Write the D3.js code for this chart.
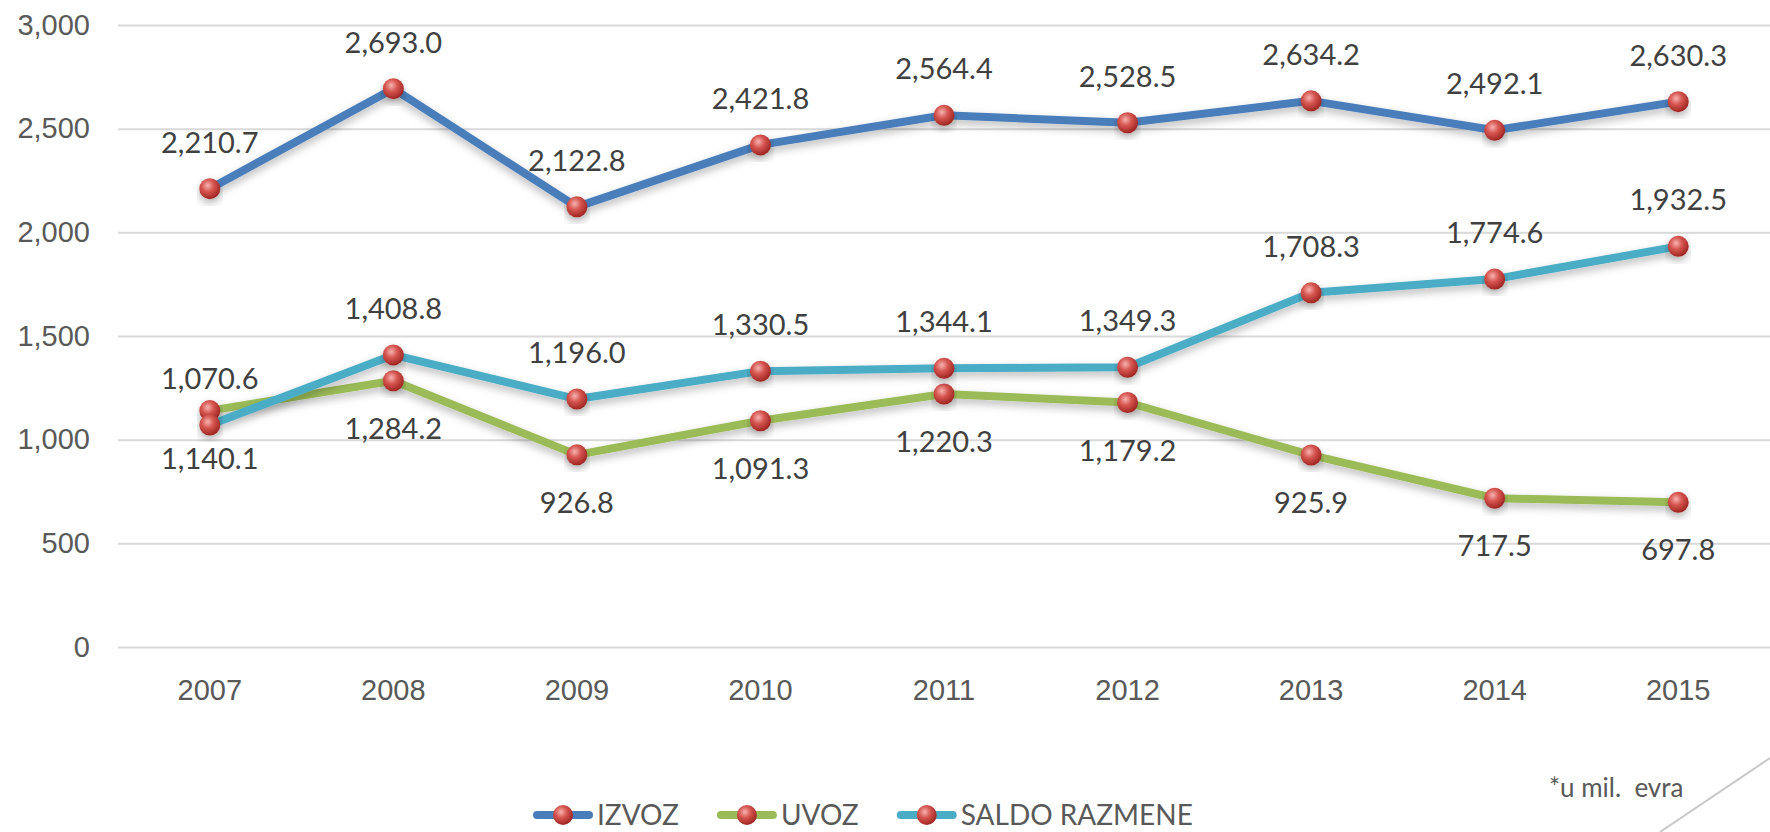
<!DOCTYPE html>
<html>
<head>
<meta charset="utf-8">
<script src="https://cdn.jsdelivr.net/npm/d3@7"></script>
<style>
  body { margin: 0; background: #fff; }
  svg { display: block; font-family: Lato, "Open Sans", sans-serif; }
</style>
</head>
<body>
<svg width="1770" height="832"></svg>
<script>
// podaci (u mil. evra)
const years = ['2007', '2008', '2009', '2010', '2011', '2012', '2013', '2014', '2015'];
const izvoz = [2210.7, 2693.0, 2122.8, 2421.8, 2564.4, 2528.5, 2634.2, 2492.1, 2630.3];
const uvoz = [1140.1, 1284.2, 926.8, 1091.3, 1220.3, 1179.2, 925.9, 717.5, 697.8];
const saldo = [1070.6, 1408.8, 1196.0, 1330.5, 1344.1, 1349.3, 1708.3, 1774.6, 1932.5];
const yTicks = [0, 500, 1000, 1500, 2000, 2500, 3000];

const series = [
    { name: 'IZVOZ', values: izvoz, color: '#4a7ebb', labelPos: 'above' },
    { name: 'UVOZ', values: uvoz, color: '#9bbb59', labelPos: 'below' },
    { name: 'SALDO RAZMENE', values: saldo, color: '#4bacc6', labelPos: 'above' }
];

const svg = d3.select('svg');
const textColor = '#595959';

const plotLeft = 118, plotRight = 1770, plotTop = 25, plotBottom = 647;

const x = d3.scaleBand().domain(years).range([plotLeft, plotRight]);
const y = d3.scaleLinear().domain([0, 3000]).range([plotBottom, plotTop]);
const cx = d => x(d) + x.bandwidth() / 2;

// gradijent za markere i senka
const defs = svg.append('defs');
const grad = defs.append('radialGradient')
    .attr('id', 'ball')
    .attr('cx', '40%').attr('cy', '35%').attr('r', '65%');
grad.append('stop').attr('offset', '0%').attr('stop-color', '#f6b3b0');
grad.append('stop').attr('offset', '45%').attr('stop-color', '#d65550');
grad.append('stop').attr('offset', '100%').attr('stop-color', '#9e2622');

const shadow = defs.append('filter')
    .attr('id', 'shadow')
    .attr('x', '-10%').attr('y', '-30%').attr('width', '120%').attr('height', '160%');
shadow.append('feDropShadow')
    .attr('dx', 0).attr('dy', 4)
    .attr('stdDeviation', 4)
    .attr('flood-color', '#000')
    .attr('flood-opacity', 0.28);

// y osa sa linijama mreze
const yAxis = svg.append('g')
    .attr('transform', `translate(${plotLeft},0)`)
    .call(d3.axisLeft(y)
        .tickValues(yTicks)
        .tickSizeInner(-(plotRight - plotLeft))
        .tickSizeOuter(0)
        .tickPadding(28)
        .tickFormat(d3.format(',')));
yAxis.select('.domain').remove();
yAxis.selectAll('.tick line')
    .attr('stroke', '#d9d9d9')
    .attr('stroke-width', 2);
yAxis.selectAll('.tick text')
    .attr('fill', textColor)
    .attr('font-size', 29);

// x osa
const xAxis = svg.append('g')
    .attr('transform', `translate(0,${plotBottom})`)
    .call(d3.axisBottom(x).tickSize(0));
xAxis.select('.domain').remove();
xAxis.selectAll('.tick text')
    .attr('y', 43)
    .attr('dy', '0.35em')
    .attr('fill', textColor)
    .attr('font-size', 29);

// linije
const line = d3.line()
    .x((d, i) => cx(years[i]))
    .y(d => y(d));

svg.append('g')
    .selectAll('path')
    .data(series)
    .enter().append('path')
    .attr('d', d => line(d.values))
    .attr('fill', 'none')
    .attr('stroke', d => d.color)
    .attr('stroke-width', 8)
    .attr('stroke-linejoin', 'round')
    .attr('filter', 'url(#shadow)');

// markeri
series.forEach(s => {
    svg.append('g')
        .selectAll('circle')
        .data(s.values)
        .enter().append('circle')
        .attr('cx', (d, i) => cx(years[i]))
        .attr('cy', d => y(d))
        .attr('r', 10.5)
        .attr('fill', 'url(#ball)')
        .attr('filter', 'url(#shadow)');
});

// oznake vrednosti
const fmt = d3.format(',.1f');
series.forEach(s => {
    svg.append('g')
        .selectAll('text')
        .data(s.values)
        .enter().append('text')
        .attr('x', (d, i) => cx(years[i]))
        .attr('y', d => y(d) + (s.labelPos === 'above' ? -46 : 48))
        .attr('dy', '0.35em')
        .attr('text-anchor', 'middle')
        .attr('fill', '#404040')
        .attr('font-size', 29)
        .text(d => fmt(d));
});

// legenda
const legend = svg.append('g').attr('transform', 'translate(533,815)');
let lx = 0;
series.forEach(s => {
    const item = legend.append('g').attr('transform', `translate(${lx},0)`);
    item.append('line')
        .attr('x1', 4).attr('x2', 56)
        .attr('stroke', s.color)
        .attr('stroke-width', 8)
        .attr('stroke-linecap', 'round');
    item.append('circle')
        .attr('cx', 30).attr('r', 10)
        .attr('fill', 'url(#ball)');
    const t = item.append('text')
        .attr('x', 64)
        .attr('dy', '0.35em')
        .attr('fill', textColor)
        .attr('font-size', 28)
        .text(s.name);
    lx += 64 + t.node().getComputedTextLength() + 38;
});

// napomena
svg.append('text')
    .attr('x', 1549).attr('y', 788)
    .attr('dy', '0.35em')
    .attr('fill', textColor)
    .attr('font-size', 26)
    .style('white-space', 'pre')
    .text('*u mil.  evra');

// ukrasna linija u uglu
svg.append('line')
    .attr('x1', 1770).attr('y1', 758)
    .attr('x2', 1660).attr('y2', 832)
    .attr('stroke', '#c8c8c8')
    .attr('stroke-width', 2);
</script>
</body>
</html>
